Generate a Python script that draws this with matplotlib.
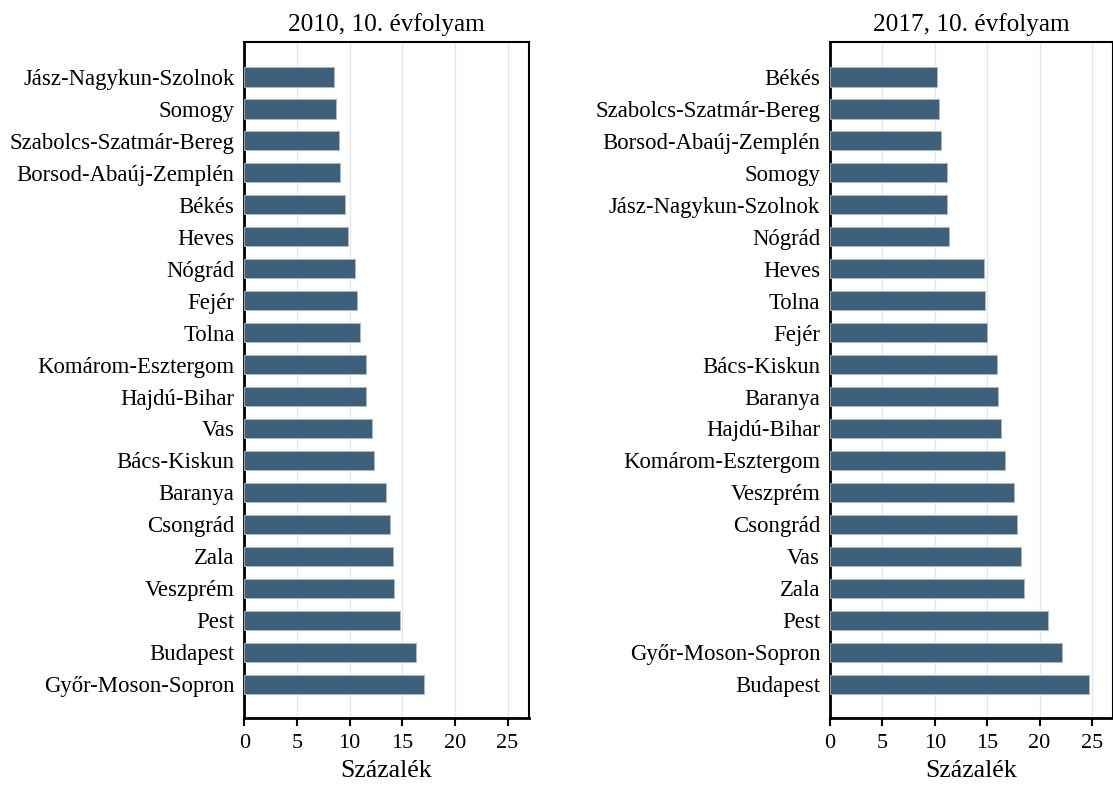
import matplotlib.pyplot as plt

plt.rcParams['font.family'] = ['Liberation Serif', 'DejaVu Serif']

# 2010, 10. évfolyam (felülről lefelé)
megyek_2010 = ['Jász-Nagykun-Szolnok', 'Somogy', 'Szabolcs-Szatmár-Bereg', 'Borsod-Abaúj-Zemplén',
               'Békés', 'Heves', 'Nógrád', 'Fejér', 'Tolna', 'Komárom-Esztergom', 'Hajdú-Bihar',
               'Vas', 'Bács-Kiskun', 'Baranya', 'Csongrád', 'Zala', 'Veszprém', 'Pest',
               'Budapest', 'Győr-Moson-Sopron']
ertekek_2010 = [8.55, 8.75, 9.0, 9.1, 9.6, 9.8, 10.5, 10.7, 11.0, 11.6, 11.6,
                12.1, 12.3, 13.5, 13.8, 14.1, 14.2, 14.8, 16.3, 17.05]

# 2017, 10. évfolyam
megyek_2017 = ['Békés', 'Szabolcs-Szatmár-Bereg', 'Borsod-Abaúj-Zemplén', 'Somogy',
               'Jász-Nagykun-Szolnok', 'Nógrád', 'Heves', 'Tolna', 'Fejér', 'Bács-Kiskun',
               'Baranya', 'Hajdú-Bihar', 'Komárom-Esztergom', 'Veszprém', 'Csongrád', 'Vas',
               'Zala', 'Pest', 'Győr-Moson-Sopron', 'Budapest']
ertekek_2017 = [10.2, 10.4, 10.6, 11.2, 11.2, 11.35, 14.7, 14.8, 15.0, 15.9,
                16.0, 16.3, 16.7, 17.6, 17.8, 18.2, 18.5, 20.8, 22.1, 24.7]

szin = '#3e6079'
xticks = [0, 5, 10, 15, 20, 25]

fig = plt.figure(figsize=(11.13, 7.89), dpi=100)
ax1 = fig.add_axes([0.2195, 0.0904, 0.2555, 0.8566])
ax2 = fig.add_axes([0.7457, 0.0904, 0.2543, 0.8566])

for ax, megyek, ertekek, cim in [(ax1, megyek_2010, ertekek_2010, '2010, 10. évfolyam'),
                                 (ax2, megyek_2017, ertekek_2017, '2017, 10. évfolyam')]:
    y = range(len(megyek))
    ax.barh(y, ertekek, height=0.6, color=szin, edgecolor='#a9bccb', linewidth=0.6, zorder=3)
    ax.set_yticks(list(y))
    ax.set_yticklabels(megyek, fontsize=16.4)
    ax.set_ylim(len(megyek) - 1 + 1.05, -1.1)
    ax.set_xlim(0, 27)
    ax.set_xticks(xticks)
    ax.set_xticklabels([str(t) for t in xticks], fontsize=16)
    ax.grid(axis='x', color='#e6e6e6', linewidth=1, zorder=0)
    ax.tick_params(axis='y', length=0, pad=7)
    ax.tick_params(axis='x', length=6, width=1.5, direction='out', pad=6)
    ax.set_xlabel('Százalék', fontsize=18.6, labelpad=5)
    ax.set_title(cim, fontsize=18.2, pad=8)
    ax.spines['left'].set_linewidth(2)
    ax.spines['bottom'].set_linewidth(2)
    ax.spines['top'].set_linewidth(1.5)
    ax.spines['right'].set_linewidth(1.5)

plt.savefig('out.png', dpi=100)
